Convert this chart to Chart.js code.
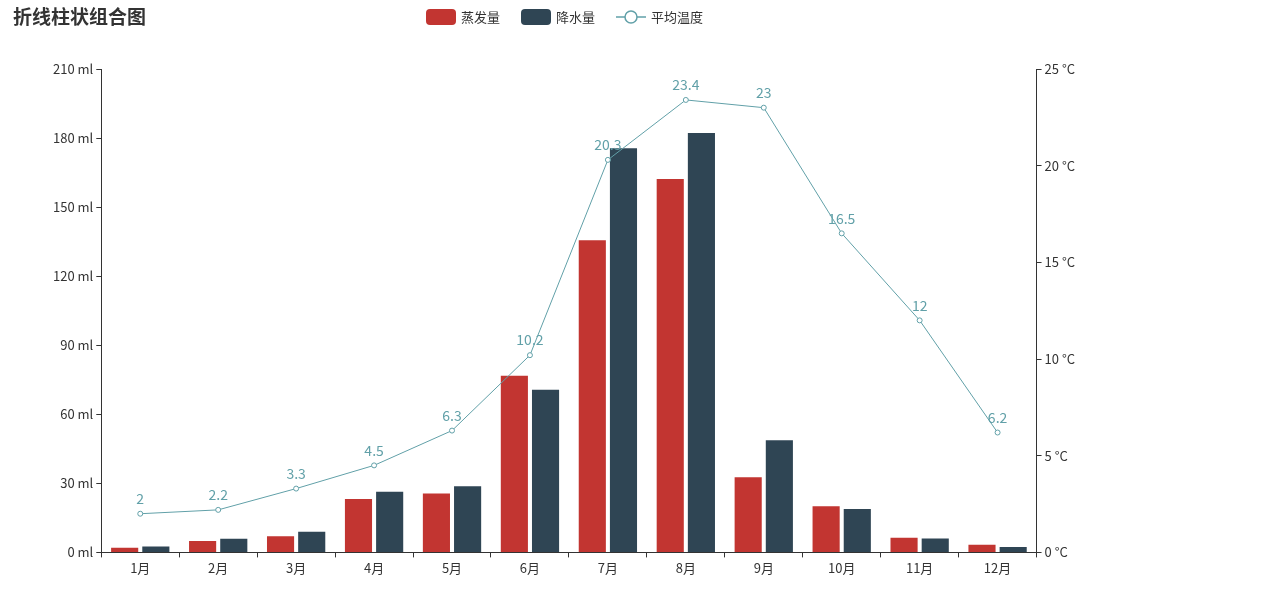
<!DOCTYPE html>
<html>
<head>
<meta charset="utf-8">
<script src="https://cdn.jsdelivr.net/npm/chart.js@4"></script>
<style>
  body { margin: 0; background: #fff; }
  #wrap { width: 1263px; height: 601px; }
</style>
</head>
<body>
<div id="wrap"><canvas id="c"></canvas></div>
<script>
const months = ['1月', '2月', '3月', '4月', '5月', '6月', '7月', '8月', '9月', '10月', '11月', '12月'];
const evaporation = [2.0, 4.9, 7.0, 23.2, 25.6, 76.7, 135.6, 162.2, 32.6, 20.0, 6.4, 3.3];
const precipitation = [2.6, 5.9, 9.0, 26.4, 28.7, 70.7, 175.6, 182.2, 48.7, 18.8, 6.0, 2.3];
const temperature = [2.0, 2.2, 3.3, 4.5, 6.3, 10.2, 20.3, 23.4, 23.0, 16.5, 12.0, 6.2];

const RED = '#c23531', DARK = '#2f4554', TEAL = '#61a0a8';
const FONT = '"Noto Sans CJK SC", "Noto Sans", sans-serif';

// title, legend and point labels drawn by hand to match the echarts look
const decor = {
  id: 'decor',
  afterDatasetsDraw(chart) {
    const ctx = chart.ctx;
    ctx.save();
    // point labels
    const meta = chart.getDatasetMeta(2);
    ctx.fillStyle = TEAL;
    ctx.font = '14px ' + FONT;
    ctx.textAlign = 'center';
    ctx.textBaseline = 'bottom';
    meta.data.forEach((pt, i) => ctx.fillText(String(temperature[i]), pt.x, pt.y - 8));
    // title
    ctx.fillStyle = '#333';
    ctx.font = 'bold 19px ' + FONT;
    ctx.textAlign = 'left';
    ctx.textBaseline = 'middle';
    ctx.fillText('折线柱状组合图', 13, 17);
    // legend
    ctx.font = '13px ' + FONT;
    const y = 16;
    const items = [
      {x: 426, text: '蒸发量', color: RED, type: 'bar'},
      {x: 521, text: '降水量', color: DARK, type: 'bar'},
      {x: 616, text: '平均温度', color: TEAL, type: 'line'}
    ];
    items.forEach(it => {
      if (it.type === 'bar') {
        ctx.fillStyle = it.color;
        ctx.beginPath();
        ctx.roundRect(it.x, y - 7, 30, 16, 4);
        ctx.fill();
      } else {
        ctx.strokeStyle = it.color;
        ctx.lineWidth = 1.5;
        ctx.beginPath();
        ctx.moveTo(it.x, y + 1); ctx.lineTo(it.x + 30, y + 1);
        ctx.stroke();
        ctx.fillStyle = '#fff';
        ctx.beginPath();
        ctx.arc(it.x + 15, y + 1, 6, 0, Math.PI * 2);
        ctx.fill(); ctx.stroke();
      }
      ctx.fillStyle = '#333';
      ctx.fillText(it.text, it.x + 35, y + 1);
    });
    ctx.restore();
  }
};

new Chart(document.getElementById('c'), {
  data: {
    labels: months,
    datasets: [{
      type: 'bar', label: '蒸发量', data: evaporation, backgroundColor: RED,
      yAxisID: 'y', categoryPercentage: 0.8, barPercentage: 0.87, order: 2
    }, {
      type: 'bar', label: '降水量', data: precipitation, backgroundColor: DARK,
      yAxisID: 'y', categoryPercentage: 0.8, barPercentage: 0.87, order: 2
    }, {
      type: 'line', label: '平均温度', data: temperature, borderColor: TEAL, borderWidth: 1,
      pointRadius: 2.5, pointBackgroundColor: '#fff', pointBorderColor: TEAL, pointBorderWidth: 1,
      yAxisID: 'y1', tension: 0, order: 1
    }]
  },
  options: {
    responsive: true,
    maintainAspectRatio: false,
    animation: false,
    layout: {padding: {top: 69, left: 50, right: 185, bottom: 22}},
    plugins: {legend: {display: false}, tooltip: {enabled: false}},
    scales: {
      x: {
        offset: true,
        grid: {offset: true, drawOnChartArea: false, tickLength: 5, color: '#333'},
        border: {color: '#333'},
        ticks: {color: '#333', font: {size: 13, family: FONT}}
      },
      y: {
        position: 'left', min: 0, max: 210,
        grid: {drawOnChartArea: false, tickLength: 5, color: '#333'},
        border: {color: '#333'},
        ticks: {stepSize: 30, color: '#333', font: {size: 13, family: FONT}, callback: v => v + ' ml'}
      },
      y1: {
        position: 'right', min: 0, max: 25,
        grid: {drawOnChartArea: false, tickLength: 5, color: '#333'},
        border: {color: '#333'},
        ticks: {stepSize: 5, color: '#333', font: {size: 13, family: FONT}, callback: v => v + ' °C'}
      }
    }
  },
  plugins: [decor]
});
</script>
</body>
</html>
